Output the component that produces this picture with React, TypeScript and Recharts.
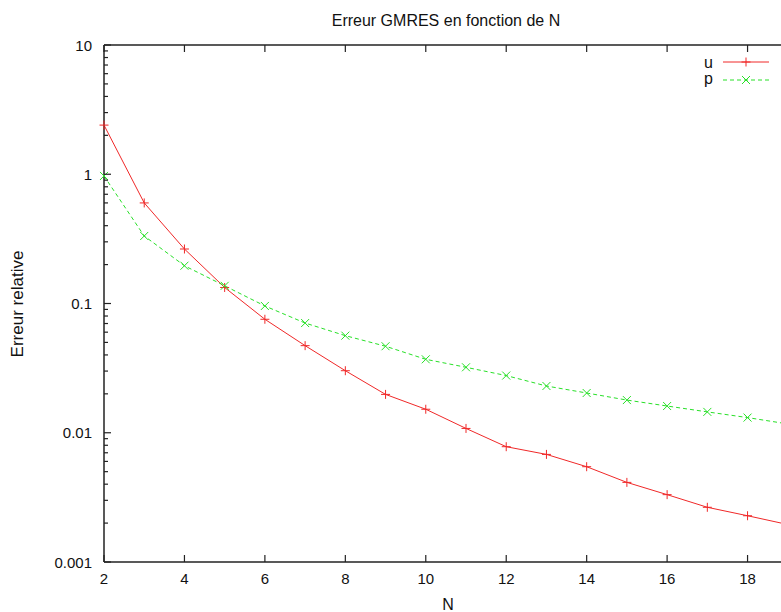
import React from "react";
import { LineChart, Line, XAxis, YAxis } from "recharts";

const N_VALUES = [2, 3, 4, 5, 6, 7, 8, 9, 10, 11, 12, 13, 14, 15, 16, 17, 18, 19, 20];
const U_ERR = [
  2.4, 0.6, 0.264, 0.133, 0.0755, 0.0472, 0.0302, 0.0198, 0.0152, 0.0108, 0.0078, 0.0068,
  0.00546, 0.00413, 0.00332, 0.00265, 0.00228, 0.00195, 0.0017,
];
const P_ERR = [
  0.97, 0.333, 0.196, 0.137, 0.0957, 0.0706, 0.0564, 0.0467, 0.037, 0.0321, 0.0277, 0.023,
  0.0203, 0.0179, 0.0161, 0.0145, 0.0131, 0.0117, 0.0106,
];
const X_TICKS = [2, 4, 6, 8, 10, 12, 14, 16, 18, 20];
const X_LABELED_MAX = 18; // the 20 label sits past the right edge of the picture
const Y_MAJOR = [0.001, 0.01, 0.1, 1, 10];
const Y_LABELS = ["0.001", "0.01", "0.1", "1", "10"];
const MINOR_STEPS = [2, 3, 4, 5, 6, 7, 8, 9];

const RED = "#f02828";
const GREEN = "#28e028";
const FONT = '"Liberation Sans", Arial, sans-serif';

const data = N_VALUES.map((n, i) => ({ n, u: U_ERR[i], p: P_ERR[i] }));

// all log ticks: majors plus 2..9 of each decade
const yTicks = Y_MAJOR.flatMap((m, i) =>
  i < Y_MAJOR.length - 1 ? [m, ...MINOR_STEPS.map((s) => +(m * s).toPrecision(3))] : [m]
);

const majorIndex = (v: number) => Y_MAJOR.findIndex((m) => Math.abs(m - v) / m < 1e-6);

const YTick = (props: any) => {
  const { x, y, payload } = props;
  const idx = majorIndex(payload.value);
  const major = idx >= 0;
  return (
    <g>
      <line x1={x} x2={x + (major ? 7 : 4)} y1={y} y2={y} stroke="#222" strokeWidth={1.2} />
      {major && (
        <text x={x - 12} y={y + 5.5} textAnchor="end" fontSize={15} fontFamily={FONT} fill="#111">
          {Y_LABELS[idx]}
        </text>
      )}
    </g>
  );
};

const XTick = (props: any) => {
  const { x, y, payload } = props;
  return (
    <g>
      <line x1={x} x2={x} y1={y} y2={y - 7} stroke="#222" strokeWidth={1.2} />
      {payload.value <= X_LABELED_MAX && (
        <text x={x} y={y + 22} textAnchor="middle" fontSize={15} fontFamily={FONT} fill="#111">
          {payload.value}
        </text>
      )}
    </g>
  );
};

const XTopTick = (props: any) => {
  const { x, y } = props;
  return <line x1={x} x2={x} y1={y} y2={y + 7} stroke="#222" strokeWidth={1.2} />;
};

const PlusDot = (props: any) => {
  const { cx, cy } = props;
  if (cx == null || cy == null) return null;
  return <path d={`M${cx - 4.5},${cy}h9M${cx},${cy - 4.5}v9`} stroke={RED} strokeWidth={1} fill="none" />;
};

const CrossDot = (props: any) => {
  const { cx, cy } = props;
  if (cx == null || cy == null) return null;
  return (
    <path
      d={`M${cx - 4},${cy - 4}l8,8M${cx - 4},${cy + 4}l8,-8`}
      stroke={GREEN}
      strokeWidth={1}
      fill="none"
    />
  );
};

export default function App() {
  return (
    <div
      style={{
        position: "fixed",
        left: 0,
        top: 0,
        width: 781,
        height: 612,
        overflow: "hidden",
        background: "#fff",
      }}
    >
      <LineChart width={860} height={612} data={data} margin={{ top: 44, right: 32, bottom: 49, left: 103 }}>
        <XAxis
          dataKey="n"
          type="number"
          domain={[2, 20]}
          ticks={X_TICKS}
          interval={0}
          height={1}
          tickSize={0}
          tickMargin={0}
          tick={<XTick />}
          axisLine={{ stroke: "#222", strokeWidth: 1.5 }}
          tickLine={false}
        />
        <XAxis
          xAxisId="top"
          orientation="top"
          dataKey="n"
          type="number"
          domain={[2, 20]}
          ticks={X_TICKS}
          interval={0}
          height={1}
          tickSize={0}
          tickMargin={0}
          tick={<XTopTick />}
          axisLine={{ stroke: "#222", strokeWidth: 1.5 }}
          tickLine={false}
        />
        <YAxis
          scale="log"
          type="number"
          domain={[0.001, 10]}
          ticks={yTicks}
          interval={0}
          width={1}
          tickSize={0}
          tickMargin={0}
          tick={<YTick />}
          axisLine={{ stroke: "#222", strokeWidth: 1.5 }}
          tickLine={false}
          allowDataOverflow
        />
        <Line
          dataKey="u"
          stroke={RED}
          strokeWidth={1}
          dot={<PlusDot />}
          activeDot={false}
          isAnimationActive={false}
        />
        <Line
          dataKey="p"
          stroke={GREEN}
          strokeWidth={1}
          strokeDasharray="4 3"
          dot={<CrossDot />}
          activeDot={false}
          isAnimationActive={false}
        />
      </LineChart>
      <svg
        width={781}
        height={612}
        style={{ position: "absolute", left: 0, top: 0, pointerEvents: "none" }}
      >
        <text x={446} y={26} textAnchor="middle" fontSize={16} fontFamily={FONT} fill="#111">
          Erreur GMRES en fonction de N
        </text>
        <text x={448} y={610} textAnchor="middle" fontSize={16} fontFamily={FONT} fill="#111">
          N
        </text>
        <text
          x={0}
          y={0}
          transform="translate(23,304) rotate(-90)"
          textAnchor="middle"
          fontSize={17}
          fontFamily={FONT}
          fill="#111"
        >
          Erreur relative
        </text>
        {/* key */}
        <text x={713} y={68} textAnchor="end" fontSize={16} fontFamily={FONT} fill="#111">
          u
        </text>
        <line x1={723} x2={769} y1={62} y2={62} stroke={RED} strokeWidth={1} />
        <path d="M741.5,62h9M746,57.5v9" stroke={RED} strokeWidth={1} />
        <text x={713} y={84} textAnchor="end" fontSize={16} fontFamily={FONT} fill="#111">
          p
        </text>
        <line x1={723} x2={769} y1={80} y2={80} stroke={GREEN} strokeWidth={1} strokeDasharray="4 3" />
        <path d="M742,76l8,8M742,84l8,-8" stroke={GREEN} strokeWidth={1} />
      </svg>
    </div>
  );
}
